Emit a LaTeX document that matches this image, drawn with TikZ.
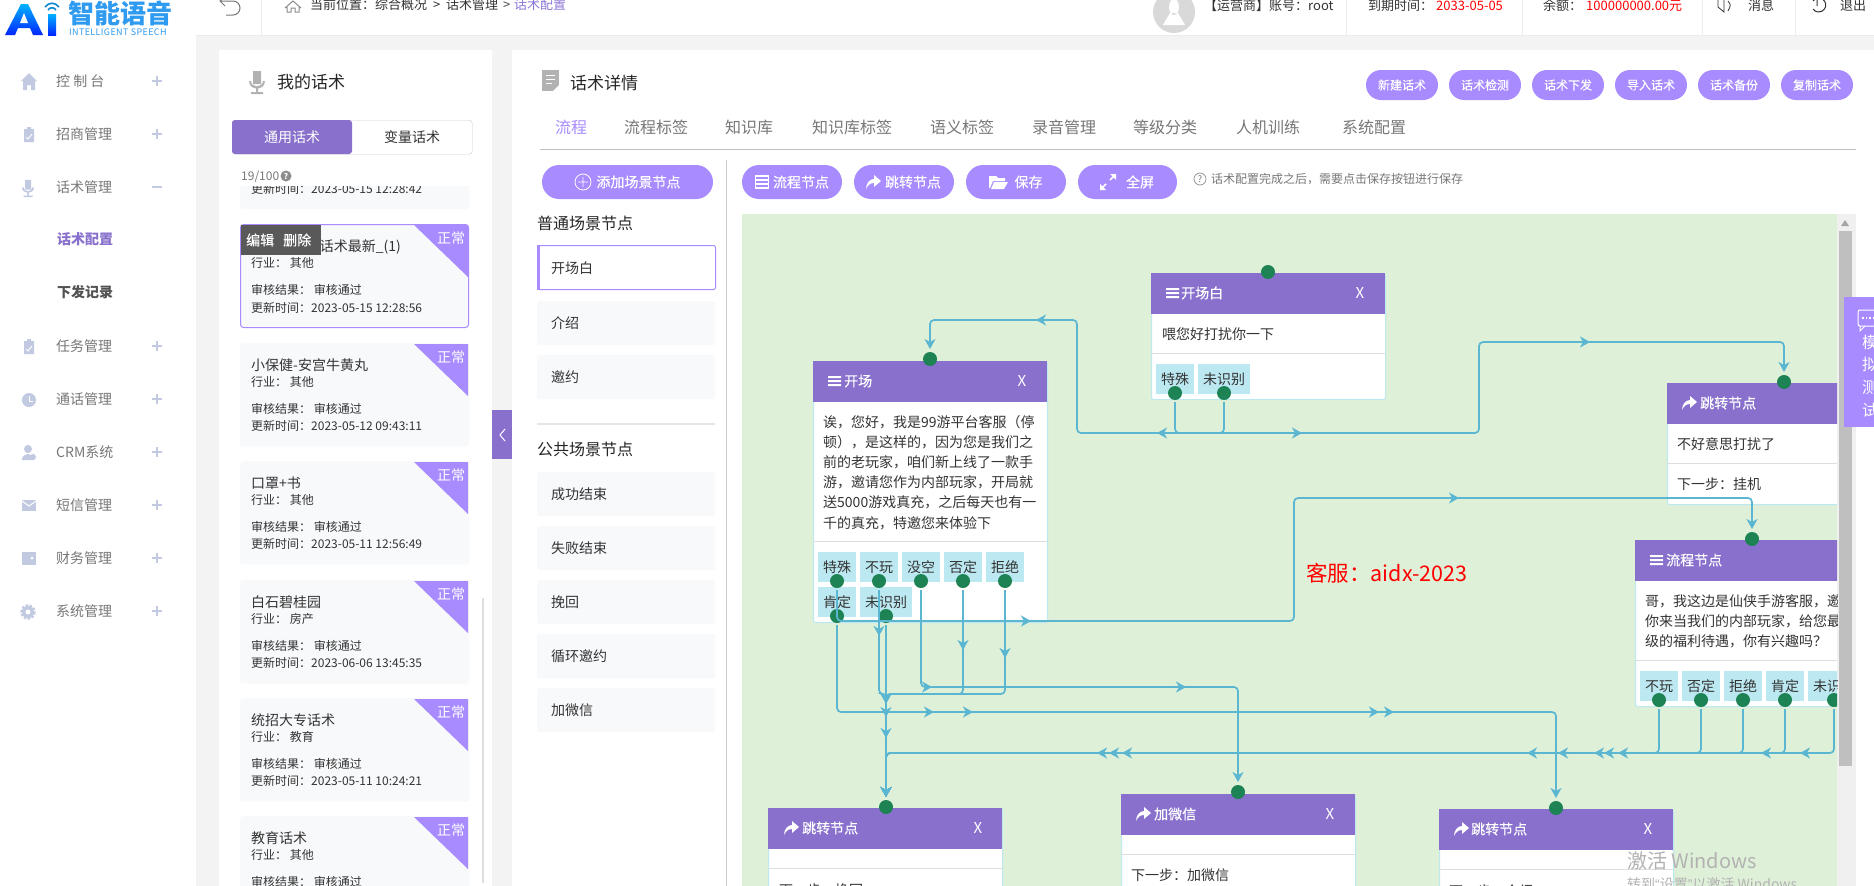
\documentclass[tikz,border=0pt]{standalone}
\usepackage{fontspec}
\setmainfont{Noto Sans CJK SC}
\newfontfamily\semiface[FakeBold=0.35]{Noto Sans CJK SC}
\newfontfamily\latinface{Liberation Sans}
\usetikzlibrary{arrows.meta}

\definecolor{headPurple}{HTML}{8870CC}
\definecolor{btnPurple}{HTML}{A78BFF}
\definecolor{chipBlue}{HTML}{BCE8F1}
\definecolor{dotGreen}{HTML}{1E8354}
\definecolor{wireBlue}{HTML}{5BB6D2}
\definecolor{canvasGreen}{HTML}{DFF0D8}
\definecolor{pageGray}{HTML}{F3F3F3}
\definecolor{itemGray}{HTML}{F8F9FB}
\definecolor{menuIcon}{HTML}{C2CAE2}
\definecolor{menuText}{HTML}{777777}
\definecolor{ink}{HTML}{333333}
\definecolor{logoBlue}{HTML}{2F9BF0}

\tikzset{
	f10/.style={font=\fontsize{9.5}{11}\selectfont,text height=8.4pt,text depth=1.1pt},
	f12/.style={font=\fontsize{12}{14}\selectfont,text height=10.6pt,text depth=1.4pt},
	f13/.style={font=\fontsize{13}{15}\selectfont,text height=11.4pt,text depth=1.6pt},
	f14/.style={font=\fontsize{14}{16}\selectfont,text height=12.3pt,text depth=1.7pt},
	f16/.style={font=\fontsize{16}{18}\selectfont,text height=14pt,text depth=2pt},
	f17/.style={font=\fontsize{17}{19}\selectfont,text height=15pt,text depth=2pt},
	txt/.style={anchor=west,inner sep=0pt,text=ink},
	graytxt/.style={txt,text=menuText},
	menu/.style={txt,f14,text=menuText},
	tabtxt/.style={txt,f16,text=menuText},
	cardtxt/.style={txt,f12},
	pillbtn/.style={fill=btnPurple,text=white,inner sep=0pt,rounded corners=17pt,minimum height=34pt,font=\semiface\fontsize{14}{16}\selectfont},
	pilltop/.style={fill=btnPurple,text=white,inner sep=0pt,rounded corners=15pt,minimum height=30pt,minimum width=72pt,font=\semiface\fontsize{12}{14}\selectfont},
	sceneitem/.style={fill=itemGray,rounded corners=2pt,minimum width=178pt,minimum height=44pt,inner sep=0pt,anchor=north west},
	flowbox/.style={fill=white,draw=chipBlue,line width=1pt,rounded corners=2pt,minimum width=234pt,inner sep=0pt,anchor=north west},
	flowhead/.style={fill=headPurple,minimum width=234pt,minimum height=41pt,inner sep=0pt,anchor=north west},
	headtxt/.style={anchor=west,inner sep=0pt,text=white,f14,font=\semiface\fontsize{14}{16}\selectfont},
	closemark/.style={inner sep=0pt,text=white,font=\fontsize{15}{16}\selectfont},
	chip/.style={fill=chipBlue,inner sep=0pt,text=ink,minimum height=30pt,minimum width=38pt,f14},
	portdot/.style={circle,fill=dotGreen,minimum size=14pt,inner sep=0pt},
	sepline/.style={draw=black!13,line width=1pt},
	wire/.style={draw=wireBlue,line width=1.7pt,rounded corners=4pt,-{Stealth[length=10pt,width=11pt,inset=3pt]}},
	tipmark/.style={draw=wireBlue,line width=1.7pt,-{Stealth[length=10pt,width=11pt,inset=3pt]}},
}

\begin{document}
\begin{tikzpicture}[y=-1pt,x=1pt]
	\newcommand\PlusMark{[draw=menuIcon,line width=1.5pt] +(-5,0) -- +(5,0) +(0,-5) -- +(0,5)}
	\newcommand\TipE{[tipmark] +(-2,0) -- +(0,0)}
	\newcommand\TipW{[tipmark] +(2,0) -- +(0,0)}
	\newcommand\TipS{[tipmark] +(0,-2) -- +(0,0)}
	\newcommand\IconBars{(0,-5) rectangle (13,-3) (0,-1) rectangle (13,1) (0,3) rectangle (13,5)}
	\newcommand\IconTurn{(0,7) .. controls (0,1) and (4,-3) .. (8,-3) -- (8,-7) -- (15,-1) -- (8,5) -- (8,1) .. controls (4,1) and (2,3) .. cycle}
	\newcommand\IconMic{(-4,-11) rectangle (4,2) (-8,-1) .. controls (-8,9) and (8,9) .. (8,-1) -- (6,-1) .. controls (6,6) and (-6,6) .. (-6,-1) -- cycle (-1,6) rectangle (1,10) (-6,10) rectangle (6,12)}
	\newcommand\IconClip{(-5,-6) rectangle (5,7) (-2,-8) rectangle (2,-5)}
	\newcommand\IconTick{(-3,1) -- (-1,3) -- (3,-2)}
	\newcommand\TalkCard[6]{
		\begin{scope}[shift={(240,#2)}]
			\node[fill=itemGray,rounded corners=3pt,minimum width=229pt,minimum height=103.5pt,inner sep=0pt,anchor=north west] (#1) at (0,0) {};
			\fill[btnPurple] (174,1) -- (228,1) -- (228,53) -- cycle;
			\node[txt,f14,text=white] (#1Mark) at (197,14) {正常};
			\node[txt,f14] (#1Title) at (11,22) {#3};
			\node[cardtxt] (#1Trade) at (11,39) {行业： #4};
			\node[cardtxt] (#1Audit) at (11,66) {审核结果： 审核通过};
		\end{scope}
	}
	\newcommand\FlowCard[5]{
		\node[flowbox,minimum height=#4] (#1) at (#2,#3) {};
		\node[flowhead] (#1Head) at (#2,#3) {};
	}

	\useasboundingbox (0,0) rectangle (1874,886);
	\fill[white] (0,0) rectangle (1874,886);
	\fill[pageGray] (196,35) rectangle (1874,50);
	\fill[pageGray] (196,50) rectangle (219,886);
	\fill[pageGray] (492,50) rectangle (512,886);
	\fill[black!8] (196,35) rectangle (1874,36);

	% logo
	\shade[top color=cyan!70!blue,bottom color=blue!85!cyan] (5,35) -- (21,4) -- (28,4) -- (43,35) -- (33,35) -- (30,28) -- (18,28) -- (15,35) -- cycle;
	\fill[white] (24,13) -- (28,23) -- (20,23) -- cycle;
	\shade[top color=cyan!70!blue,bottom color=blue!85!cyan] (48,14) rectangle (56,35);
	\draw[cyan!70!blue,line width=1.6pt] (45,7) .. controls (49,2) and (55,2) .. (59,7) (48,10) .. controls (50,7) and (54,7) .. (56,10);
	\node[txt,text=logoBlue,font=\bfseries\fontsize{26}{28}\selectfont] (logoName) at (68,13) {智能语音};
	\node[txt,f10,text=logoBlue,font=\fontsize{9}{11}\addfontfeature{LetterSpace=4}\selectfont] (logoSub) at (69,32) {INTELLIGENT SPEECH};

	% top bar
	\draw[black!7] (261,0) -- (261,35) (1346,0) -- (1346,35) (1522,0) -- (1522,35) (1702,0) -- (1702,35) (1795,0) -- (1795,35);
	\draw[menuText,line width=1pt] (221,1) -- (233,1) arc (-90:90:7) -- (226,15) (225,-4) -- (220,1) -- (225,6);
	\draw[black!45,line width=1pt] (285,8) -- (293,1) -- (301,8) (287,7) -- (287,12) -- (291,12) -- (291,8) -- (295,8) -- (295,12) -- (299,12) -- (299,7);
	\node[txt,f13] (crumbA) at (310,5) {当前位置：综合概况\ \ >\ \ 话术管理};
	\node[txt,f13,text=black!70] (crumbC) at (503,5) {>};
	\node[txt,f13,text=btnPurple!85!black] (crumbB) at (514,5) {话术配置};
	\fill[black!15] (1174,12) circle (21);
	\fill[white] (1174,7) ellipse (5 and 8) (1163,25) -- (1185,25) -- (1178,13) -- (1170,13) -- cycle;
	\node[txt,f13] (userName) at (1204,6) {【运营商】账号：root};
	\node[txt,f13] (dueName) at (1368,6) {到期时间：};
	\node[txt,f13,text=red] (dueDate) at (1436,6) {2033-05-05};
	\node[txt,f13] (moneyName) at (1543,6) {余额：};
	\node[txt,f13,text=red] (moneySum) at (1586,6) {100000000.00元};
	\draw[ink,line width=.8pt] (1724,0) -- (1724,12) -- (1718,7) -- (1718,0) (1728,1) .. controls (1731,5) .. (1728,11);
	\node[txt,f13] (msgName) at (1748,6) {消息};
	\draw[ink,line width=1pt] (1813,1) arc (215:505:7) (1817,0) -- (1817,6);
	\node[txt,f13] (quitName) at (1840,6) {退出};

	% left menu
	\fill[menuIcon] (21,81) -- (29,73) -- (37,81) -- (35,81) -- (35,90) -- (31,90) -- (31,85) -- (27,85) -- (27,90) -- (23,90) -- (23,81) -- cycle;
	\node[menu] (menuA) at (56,81) {控 制 台};
	\draw (157,81) \PlusMark;
	\fill[menuIcon,shift={(29,135)}] \IconClip;
	\draw[white,line width=1pt,shift={(29,136)}] \IconTick;
	\node[menu] (menuB) at (56,134) {招商管理};
	\draw (157,134) \PlusMark;
	\fill[menuIcon,shift={(28,188)},scale=.75] \IconMic;
	\node[menu] (menuC) at (56,187) {话术管理};
	\draw[draw=menuIcon,line width=1.5pt] (152,187) -- (162,187);
	\node[txt,f14,text=headPurple,font=\bfseries\fontsize{14}{16}\selectfont] (menuC1) at (57,239) {话术配置};
	\node[txt,f14,text=ink!85,font=\bfseries\fontsize{14}{16}\selectfont] (menuC2) at (57,292) {下发记录};
	\fill[menuIcon,shift={(29,347)}] \IconClip;
	\draw[white,line width=1pt,shift={(29,348)}] \IconTick;
	\node[menu] (menuD) at (56,346) {任务管理};
	\draw (157,346) \PlusMark;
	\fill[menuIcon] (29,400) circle (7);
	\draw[white,line width=1pt] (29,396) -- (29,401) -- (33,401);
	\node[menu] (menuE) at (56,399) {通话管理};
	\draw (157,399) \PlusMark;
	\fill[menuIcon] (28,449) circle (4) (22,460) .. controls (22,452) and (34,452) .. (34,460) -- cycle (33,457) circle (3);
	\node[menu] (menuF) at (56,452) {CRM系统};
	\draw (157,452) \PlusMark;
	\fill[menuIcon] (22,500) rectangle (36,511);
	\draw[white,line width=1pt] (22,501) -- (29,506) -- (36,501);
	\node[menu] (menuG) at (56,505) {短信管理};
	\draw (157,505) \PlusMark;
	\fill[menuIcon] (22,552) rectangle (36,565);
	\fill[white] (32,558) circle (1.5);
	\node[menu] (menuH) at (56,558) {财务管理};
	\draw (157,558) \PlusMark;
	\draw[menuIcon,line width=2.5pt,dash pattern=on 2.5pt off 1.5pt] (28,612) circle (6.5);
	\fill[menuIcon] (28,612) circle (6);
	\fill[white] (28,612) circle (2.5);
	\node[menu] (menuI) at (56,611) {系统管理};
	\draw (157,611) \PlusMark;

	% talk list
	\fill[black!30,shift={(257,82)}] \IconMic;
	\node[txt,f17,text=black!85] (talkTitle) at (277,82) {我的话术};
	\node[fill=white,draw=black!20,rounded corners=3pt,minimum width=240pt,minimum height=34pt,inner sep=0pt,anchor=north west] (talkTabs) at (232,120) {};
	\fill[headPurple,rounded corners=3pt] (232,120) rectangle (352,154);
	\node[text=white,f14,inner sep=0pt] (talkTabA) at (292,137) {通用话术};
	\node[text=ink,f14,inner sep=0pt] (talkTabB) at (412,137) {变量话术};
	\node[graytxt,f12] (talkCount) at (241,176) {19/100};
	\fill[black!45] (286,176) circle (5.5);
	\node[text=white,inner sep=0pt,font=\bfseries\fontsize{8}{9}\selectfont] (talkHelp) at (286,176) {?};
	\begin{scope}
		\clip (240,186) rectangle (469,209);
		\fill[itemGray,rounded corners=3pt] (240,170) rectangle (469,209);
		\node[cardtxt] (card0Date) at (251,189) {更新时间：2023-05-15 12:28:42};
	\end{scope}
	\TalkCard{card1}{224}{[大游] 仙侠话术最新\_(1)}{其他}{}{}
	\draw[btnPurple,line width=1pt,rounded corners=3pt] (240.5,224.5) rectangle (468.5,327.5);
	\node[cardtxt] (card1Date) at (251,308) {更新时间：2023-05-15 12:28:56};
	\fill[black!65] (241,225) rectangle (321,255);
	\node[anchor=west,inner sep=0pt,text=white,font=\semiface\fontsize{14}{16}\selectfont] (card1Edit) at (246,240) {编辑};
	\node[anchor=west,inner sep=0pt,text=white,font=\semiface\fontsize{14}{16}\selectfont] (card1Del) at (283,240) {删除};
	\TalkCard{card2}{343}{小保健-安宫牛黄丸}{其他}{}{}
	\node[cardtxt] (card2Date) at (251,426) {更新时间：2023-05-12 09:43:11};
	\TalkCard{card3}{461}{口罩+书}{其他}{}{}
	\node[cardtxt] (card3Date) at (251,544) {更新时间：2023-05-11 12:56:49};
	\TalkCard{card4}{580}{白石碧桂园}{房产}{}{}
	\node[cardtxt] (card4Date) at (251,663) {更新时间：2023-06-06 13:45:35};
	\TalkCard{card5}{698}{统招大专话术}{教育}{}{}
	\node[cardtxt] (card5Date) at (251,781) {更新时间：2023-05-11 10:24:21};
	\TalkCard{card6}{816}{教育话术}{其他}{}{}
	\fill[black!13] (482,598) rectangle (484,883);
	\fill[headPurple] (492,410) rectangle (512,459);
	\draw[white,line width=1pt] (505,429) -- (500,435) -- (505,441);

	% detail head
	\fill[black!30] (542,70) rectangle (559,91);
	\draw[white,line width=1pt] (546,75) -- (555,75) (546,79) -- (555,79) (546,83) -- (552,83);
	\fill[white] (559,91) -- (553,91) -- (559,85) -- cycle;
	\node[txt,f17,text=black!85] (detailTitle) at (570,83) {话术详情};
	\node[pilltop] (newBtn) at (1402,85) {新建话术};
	\node[pilltop] (checkBtn) at (1485,85) {话术检测};
	\node[pilltop] (sendBtn) at (1568,85) {话术下发};
	\node[pilltop] (inBtn) at (1651,85) {导入话术};
	\node[pilltop] (backupBtn) at (1734,85) {话术备份};
	\node[pilltop] (copyBtn) at (1817,85) {复制话术};
	\node[tabtxt,text=btnPurple] (tabA) at (555,127) {流程};
	\node[tabtxt] (tabB) at (624,127) {流程标签};
	\node[tabtxt] (tabC) at (725,127) {知识库};
	\node[tabtxt] (tabD) at (812,127) {知识库标签};
	\node[tabtxt] (tabE) at (930,127) {语义标签};
	\node[tabtxt] (tabF) at (1032,127) {录音管理};
	\node[tabtxt] (tabG) at (1133,127) {等级分类};
	\node[tabtxt] (tabH) at (1236,127) {人机训练};
	\node[tabtxt] (tabI) at (1342,127) {系统配置};
	\draw[black!25,line width=1pt] (540,149.5) -- (1856,149.5);
	\draw[black!20,line width=1pt] (726,160) -- (726,886);

	% scene list
	\node[pillbtn,minimum width=171pt] (addBtn) at (627.5,182) {\hspace{22pt}添加场景节点};
	\draw[white,line width=.8pt] (583,182) circle (8) (578,182) -- (588,182) (583,177) -- (583,187);
	\node[txt,f16,text=black!85] (sceneTitleA) at (537,223) {普通场景节点};
	\node[sceneitem,fill=white,draw=btnPurple,line width=1pt] (sceneA) at (537,245) {};
	\fill[btnPurple] (537,245) rectangle (539.5,290);
	\node[txt,f14] (sceneAText) at (551,268) {开场白};
	\node[sceneitem] (sceneB) at (537,301) {};
	\node[txt,f14] (sceneBText) at (551,323) {介绍};
	\node[sceneitem] (sceneC) at (537,355) {};
	\node[txt,f14] (sceneCText) at (551,377) {邀约};
	\draw[black!10,line width=1.5pt] (537,424) -- (715,424);
	\node[txt,f16,text=black!85] (sceneTitleB) at (537,449) {公共场景节点};
	\node[sceneitem] (sceneD) at (537,472) {};
	\node[txt,f14] (sceneDText) at (551,494) {成功结束};
	\node[sceneitem] (sceneE) at (537,526) {};
	\node[txt,f14] (sceneEText) at (551,548) {失败结束};
	\node[sceneitem] (sceneF) at (537,580) {};
	\node[txt,f14] (sceneFText) at (551,602) {挽回};
	\node[sceneitem] (sceneG) at (537,634) {};
	\node[txt,f14] (sceneGText) at (551,656) {循环邀约};
	\node[sceneitem] (sceneH) at (537,688) {};
	\node[txt,f14] (sceneHText) at (551,710) {加微信};

	% tool buttons
	\node[pillbtn,minimum width=100pt] (flowBtn) at (792,182) {\hspace{18pt}流程节点};
	\draw[white,line width=1.2pt] (755.5,176) rectangle (768.5,188) (755.5,180) -- (768.5,180) (755.5,184) -- (768.5,184);
	\node[pillbtn,minimum width=100pt] (jumpBtn) at (904,182) {\hspace{18pt}跳转节点};
	\fill[white,shift={(866,182)}] \IconTurn;
	\node[pillbtn,minimum width=100pt] (saveBtn) at (1016,182) {\hspace{25pt}保存};
	\fill[white] (989,176) -- (996,176) -- (998,178) -- (1005,178) -- (1005,181) -- (993,181) -- (990,188) -- (989,188) -- cycle (994,182) -- (1008,182) -- (1004,189) -- (991,189) -- cycle;
	\node[pillbtn,minimum width=99pt] (fullBtn) at (1127.5,182) {\hspace{25pt}全屏};
	\draw[white,line width=1.5pt] (1102,188) -- (1106,184) (1110,180) -- (1114,176);
	\fill[white] (1100,190) -- (1100,184) -- (1106,190) -- cycle (1116,174) -- (1116,180) -- (1110,174) -- cycle;
	\draw[black!45,line width=.7pt] (1200,179) circle (6);
	\node[text=black!55,inner sep=0pt,font=\fontsize{9}{10}\selectfont] (hintMark) at (1200,179) {?};
	\node[graytxt,f12] (hintText) at (1211,179) {话术配置完成之后，需要点击保存按钮进行保存};

	% canvas
	\fill[black!6] (1837,214) rectangle (1856,886);
	\fill[black!25] (1839,231) rectangle (1852,766);
	\fill[black!35] (1841,226) -- (1845,220) -- (1849,226) -- cycle;
	\begin{scope}
		\clip (742,214) rectangle (1837,886);
		\fill[canvasGreen] (742,214) rectangle (1837,886);

		\FlowCard{kb}{1151}{273}{126}{}
		\fill[white,shift={(1166,293)}] \IconBars;
		\node[headtxt] (kbTitle) at (1181,293) {开场白};
		\node[closemark] (kbClose) at (1360,293) {X};
		\node[txt,f14] (kbText) at (1162,334) {喂您好打扰你一下};
		\draw[sepline] (1151,353) -- (1385,353);
		\node[chip] (kbChipA) at (1175,379) {特殊};
		\node[chip,minimum width=52pt] (kbChipB) at (1224,379) {未识别};
		\node[portdot] (kbTeshu) at (1175,393) {};
		\node[portdot] (kbWeishi) at (1224,393) {};
		\node[portdot] (kbIn) at (1268,272) {};

		\FlowCard{kc}{813}{361}{261}{}
		\fill[white,shift={(828,381)}] \IconBars;
		\node[headtxt] (kcTitle) at (844,381) {开场};
		\node[closemark] (kcClose) at (1022,381) {X};
		\node[anchor=north west,inner sep=0pt,text=ink,align=left,font=\fontsize{14}{20.2}\selectfont] (kcText) at (823,415) {诶，您好，我是99游平台客服（停\\顿），是这样的，因为您是我们之\\前的老玩家，咱们新上线了一款手\\游，邀请您作为内部玩家，开局就\\送5000游戏真充，之后每天也有一\\千的真充，特邀您来体验下};
		\draw[sepline] (813,541) -- (1047,541);
		\node[chip] (kcChipA) at (837,567) {特殊};
		\node[chip] (kcChipB) at (879,567) {不玩};
		\node[chip] (kcChipC) at (921,567) {没空};
		\node[chip] (kcChipD) at (963,567) {否定};
		\node[chip] (kcChipE) at (1005,567) {拒绝};
		\node[chip] (kcChipF) at (837,602) {肯定};
		\node[chip,minimum width=52pt] (kcChipG) at (886,602) {未识别};
		\node[portdot] (kcTeshu) at (837,581) {};
		\node[portdot] (kcBuwan) at (879,581) {};
		\node[portdot] (kcMeikong) at (921,581) {};
		\node[portdot] (kcFouding) at (963,581) {};
		\node[portdot] (kcJujue) at (1005,581) {};
		\node[portdot] (kcKending) at (837,616) {};
		\node[portdot] (kcWeishi) at (886,616) {};
		\node[portdot] (kcIn) at (930,359) {};

		\FlowCard{ja}{1667}{383}{121}{}
		\fill[white,shift={(1682,403)}] \IconTurn;
		\node[headtxt] (jaTitle) at (1700,403) {跳转节点};
		\node[txt,f14] (jaText) at (1677,444) {不好意思打扰了};
		\draw[sepline] (1667,463) -- (1837,463);
		\node[txt,f14] (jaNext) at (1677,484) {下一步：挂机};
		\node[portdot] (jaIn) at (1784,382) {};

		\FlowCard{lc}{1635}{540}{166}{}
		\fill[white,shift={(1650,560)}] \IconBars;
		\node[headtxt] (lcTitle) at (1666,560) {流程节点};
		\node[anchor=north west,inner sep=0pt,text=ink,align=left,font=\fontsize{14}{20}\selectfont] (lcText) at (1645,594) {哥，我这边是仙侠手游客服，邀\\你来当我们的内部玩家，给您最\\级的福利待遇，你有兴趣吗？};
		\draw[sepline] (1635,660) -- (1837,660);
		\node[chip] (lcChipA) at (1659,686) {不玩};
		\node[chip] (lcChipB) at (1701,686) {否定};
		\node[chip] (lcChipC) at (1743,686) {拒绝};
		\node[chip] (lcChipD) at (1785,686) {肯定};
		\node[chip,minimum width=52pt] (lcChipE) at (1834,686) {未识别};
		\node[portdot] (lcBuwan) at (1659,700) {};
		\node[portdot] (lcFouding) at (1701,700) {};
		\node[portdot] (lcJujue) at (1743,700) {};
		\node[portdot] (lcKending) at (1785,700) {};
		\node[portdot] (lcWeishi) at (1834,700) {};
		\node[portdot] (lcIn) at (1752,539) {};

		\FlowCard{jb}{768}{808}{120}{}
		\fill[white,shift={(784,828)}] \IconTurn;
		\node[headtxt] (jbTitle) at (802,828) {跳转节点};
		\node[closemark] (jbClose) at (978,828) {X};
		\draw[sepline] (768,868) -- (1003,868);
		\node[txt,f14] (jbNext) at (779,890) {下一步：挽回};
		\node[portdot] (jbIn) at (886,807) {};

		\FlowCard{wx}{1121}{794}{120}{}
		\fill[white,shift={(1136,814)}] \IconTurn;
		\node[headtxt] (wxTitle) at (1154,814) {加微信};
		\node[closemark] (wxClose) at (1330,814) {X};
		\draw[sepline] (1121,854) -- (1355,854);
		\node[txt,f14] (wxNext) at (1131,875) {下一步：加微信};
		\node[portdot] (wxIn) at (1238,792) {};

		\FlowCard{jc}{1439}{809}{120}{}
		\fill[white,shift={(1454,829)}] \IconTurn;
		\node[headtxt] (jcTitle) at (1471,829) {跳转节点};
		\node[closemark] (jcClose) at (1648,829) {X};
		\draw[sepline] (1439,869) -- (1673,869);
		\node[txt,f14] (jcNext) at (1449,891) {下一步：介绍};
		\node[portdot] (jcIn) at (1556,808) {};

		% connectors
		\draw[wire] ([yshift=-9pt]kbTeshu.center) -- (1175,433) -- (1479,433) -- (1479,342) -- (1784,342) -- ([yshift=10pt]jaIn.center);
		\draw[wire] ([yshift=-9pt]kbWeishi.center) -- (1224,433) -- (1077,433) -- (1077,320) -- (930,320) -- ([yshift=10pt]kcIn.center);
		\draw[wire] ([yshift=-9pt]kcTeshu.center) -- (837,621) -- (1294,621) -- (1294,498) -- (1752,498) -- ([yshift=10pt]lcIn.center);
		\draw[wire] ([yshift=-9pt]kcBuwan.center) -- (879,694) -- (886,694) -- ([yshift=10pt]jbIn.center);
		\draw[wire] ([yshift=-9pt]kcMeikong.center) -- (921,687) -- (1238,687) -- ([yshift=10pt]wxIn.center);
		\draw[wire] ([yshift=-9pt]kcFouding.center) -- (963,694) -- (886,694) -- ([yshift=10pt]jbIn.center);
		\draw[wire] ([yshift=-9pt]kcJujue.center) -- (1005,694) -- (886,694) -- ([yshift=10pt]jbIn.center);
		\draw[wire] ([yshift=-9pt]kcKending.center) -- (837,712) -- (1556,712) -- ([yshift=10pt]jcIn.center);
		\draw[wire] ([yshift=-9pt]kcWeishi.center) -- ([yshift=10pt]jbIn.center);
		\draw[wire] ([yshift=-9pt]lcBuwan.center) -- (1659,753) -- (886,753) -- ([yshift=10pt]jbIn.center);
		\draw[wire] ([yshift=-9pt]lcFouding.center) -- (1701,753) -- (886,753) -- ([yshift=10pt]jbIn.center);
		\draw[wire] ([yshift=-9pt]lcJujue.center) -- (1743,753) -- (886,753) -- ([yshift=10pt]jbIn.center);
		\draw[wire] ([yshift=-9pt]lcKending.center) -- (1785,753) -- (886,753) -- ([yshift=10pt]jbIn.center);
		\draw[wire] ([yshift=-9pt]lcWeishi.center) -- (1834,753) -- (886,753) -- ([yshift=10pt]jbIn.center);

		\draw (1302,433) \TipE;
		\draw (1590,342) \TipE;
		\draw (1157,433) \TipW;
		\draw (1036,320) \TipW;
		\draw (1031,621) \TipE;
		\draw (1459,498) \TipE;
		\draw (879,636) \TipS;
		\draw (963,650) \TipS;
		\draw (1005,658) \TipS;
		\draw (886,704) \TipS;
		\draw (886,717) \TipS;
		\draw (886,738) \TipS;
		\draw (932,687) \TipE;
		\draw (1186,687) \TipE;
		\draw (934,712) \TipE;
		\draw (973,712) \TipE;
		\draw (1379,712) \TipE;
		\draw (1394,712) \TipE;
		\draw (1097,753) \TipW;
		\draw (1109,753) \TipW;
		\draw (1122,753) \TipW;
		\draw (1527,753) \TipW;
		\draw (1558,753) \TipW;
		\draw (1594,753) \TipW;
		\draw (1604,753) \TipW;
		\draw (1618,753) \TipW;
		\draw (1761,753) \TipW;
		\draw (1800,753) \TipW;

		\node[txt,text=red,font=\fontsize{21.5}{23}\selectfont] (serviceNote) at (1306,573) {客服：aidx-2023};
		\node[txt,text=black!30,font=\fontsize{20}{22}\selectfont] (winMark) at (1627,861) {激活 Windows};
		\node[txt,text=black!30,font=\fontsize{14}{16}\selectfont] (winHint) at (1627,884) {转到{\latinface “}设置{\latinface ”}以激活 Windows};
	\end{scope}

	% test tab
	\fill[btnPurple] (1844,297) rectangle (1874,427);
	\draw[white,line width=1pt,rounded corners=2pt] (1858,310) rectangle (1880,326);
	\draw[white,line width=1.5pt,dash pattern=on 1.5pt off 2pt] (1862,318) -- (1874,318);
	\draw[white,line width=1pt] (1860,326) -- (1860,331) -- (1865,326);
	\node[text=white,inner sep=0pt,font=\fontsize{16}{18}\selectfont] (testA) at (1870,342) {模};
	\node[text=white,inner sep=0pt,font=\fontsize{16}{18}\selectfont] (testB) at (1870,364) {拟};
	\node[text=white,inner sep=0pt,font=\fontsize{16}{18}\selectfont] (testC) at (1870,387) {测};
	\node[text=white,inner sep=0pt,font=\fontsize{16}{18}\selectfont] (testD) at (1870,410) {试};
\end{tikzpicture}
\end{document}
